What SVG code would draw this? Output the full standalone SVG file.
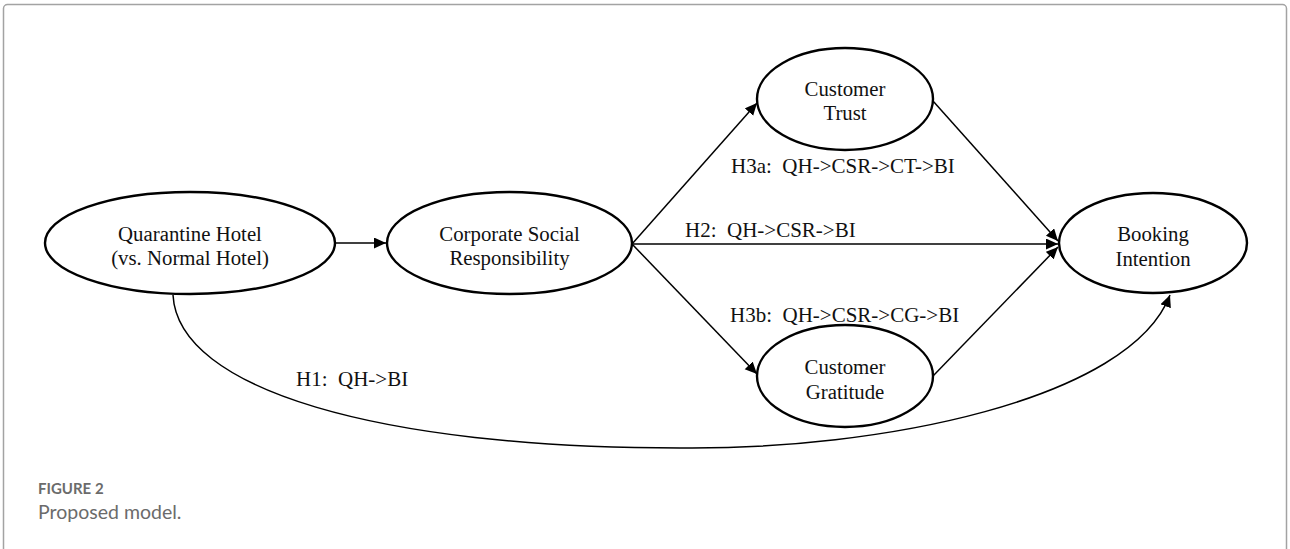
<svg xmlns="http://www.w3.org/2000/svg" width="1290" height="549" viewBox="0 0 1290 549">
<style>
.node ellipse{fill:#fff;stroke:#000;stroke-width:2.4}
.t{font-family:"Liberation Serif","Times New Roman",serif;font-size:20.8px;fill:#111;text-anchor:middle}
.lab{font-family:"Liberation Serif","Times New Roman",serif;font-size:21px;fill:#111}
.ln{stroke:#000;stroke-width:1.5;fill:none}
.cap1{font-family:Lato,"Open Sans",sans-serif;font-weight:700;font-size:15px;fill:#6b6b6b}
.cap2{font-family:Lato,"Open Sans",sans-serif;font-size:19.5px;fill:#6b6b6b}
</style>
<defs>
<marker id="ah" markerUnits="userSpaceOnUse" markerWidth="13" markerHeight="12" refX="12" refY="5.5" orient="auto">
<path d="M0,0 L12,5.5 L0,11 Z" fill="#000"/>
</marker>
</defs>
<rect x="3.5" y="4.5" width="1283" height="570" rx="4" fill="#fff" stroke="#a3a3a3" stroke-width="1.5"/>
<g id="connectors">
<line class="ln" x1="334" y1="243" x2="386" y2="243" marker-end="url(#ah)"/>
<line class="ln" x1="632" y1="244" x2="757" y2="103" marker-end="url(#ah)"/>
<line class="ln" x1="632" y1="244" x2="1058" y2="244" marker-end="url(#ah)"/>
<line class="ln" x1="632" y1="244" x2="757" y2="374" marker-end="url(#ah)"/>
<line class="ln" x1="933" y1="101" x2="1058" y2="241" marker-end="url(#ah)"/>
<line class="ln" x1="933" y1="376" x2="1058" y2="247" marker-end="url(#ah)"/>
<path class="ln" stroke-width="2" d="M173,295 C178,390 380,448 680,448 C880,450 1130,400 1170,295" marker-end="url(#ah)"/>
</g>
<g id="labels">
<text class="lab" x="731" y="173">H3a:&#160; QH-&gt;CSR-&gt;CT-&gt;BI</text>
<text class="lab" x="685" y="237">H2:&#160; QH-&gt;CSR-&gt;BI</text>
<text class="lab" x="730" y="322">H3b:&#160; QH-&gt;CSR-&gt;CG-&gt;BI</text>
<text class="lab" x="296" y="386">H1:&#160; QH-&gt;BI</text>
</g>
<g id="node-qh" class="node">
<ellipse cx="190" cy="243" rx="145" ry="51"/>
<text class="t" x="190" y="241">Quarantine Hotel</text>
<text class="t" x="190" y="265">(vs. Normal Hotel)</text>
</g>
<g id="node-csr" class="node">
<ellipse cx="509.5" cy="243" rx="122.5" ry="51"/>
<text class="t" x="509.5" y="241">Corporate Social</text>
<text class="t" x="509.5" y="265">Responsibility</text>
</g>
<g id="node-ct" class="node">
<ellipse cx="845" cy="99" rx="88" ry="51"/>
<text class="t" x="845" y="96">Customer</text>
<text class="t" x="845" y="120">Trust</text>
</g>
<g id="node-cg" class="node">
<ellipse cx="845" cy="376" rx="88" ry="51"/>
<text class="t" x="845" y="374">Customer</text>
<text class="t" x="845" y="399">Gratitude</text>
</g>
<g id="node-bi" class="node">
<ellipse cx="1153" cy="243" rx="94" ry="50"/>
<text class="t" x="1153" y="241">Booking</text>
<text class="t" x="1153" y="266">Intention</text>
</g>
<g id="caption">
<text class="cap1" x="38" y="494">FIGURE 2</text>
<text class="cap2" x="38" y="519">Proposed model.</text>
</g>
</svg>
